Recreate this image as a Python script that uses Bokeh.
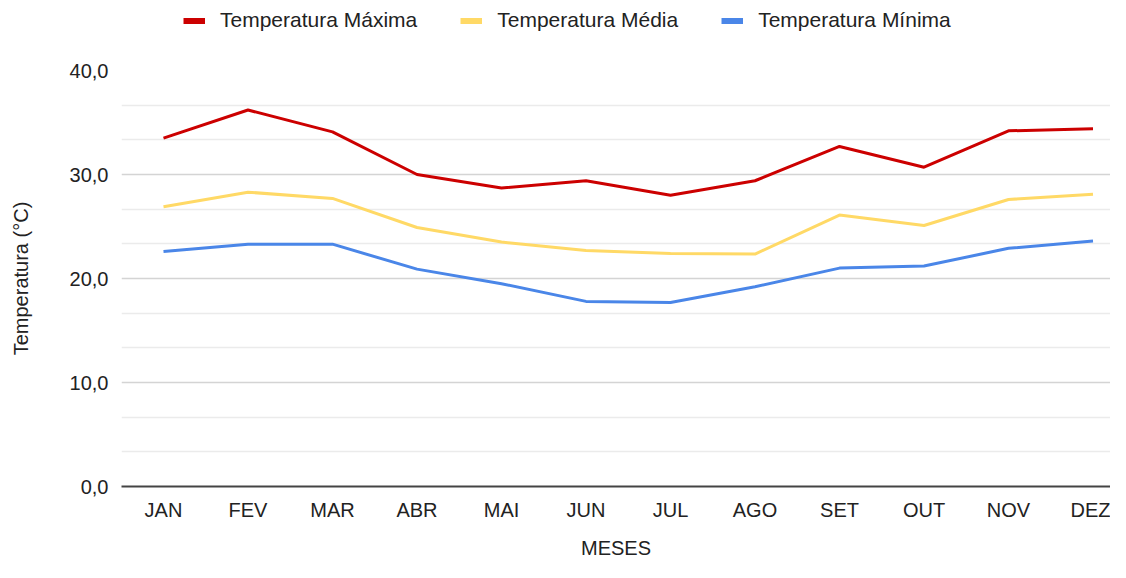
from bokeh.plotting import figure
from bokeh.layouts import column
from bokeh.models import FixedTicker, Range1d, Legend, LegendItem
from bokeh.embed import file_html
from bokeh.resources import INLINE

months = ["JAN", "FEV", "MAR", "ABR", "MAI", "JUN", "JUL", "AGO", "SET", "OUT", "NOV", "DEZ"]
t_max = [33.5, 36.2, 34.1, 30.0, 28.7, 29.4, 28.0, 29.4, 32.7, 30.7, 34.2, 34.4]
t_med = [26.9, 28.3, 27.7, 24.9, 23.5, 22.7, 22.4, 22.35, 26.1, 25.1, 27.6, 28.1]
t_min = [22.6, 23.3, 23.3, 20.9, 19.5, 17.8, 17.7, 19.2, 21.0, 21.2, 22.9, 23.6]
y_ticks = [0, 10, 20, 30, 40]
y_tick_labels = ["0,0", "10,0", "20,0", "30,0", "40,0"]
series_names = ["Temperatura Máxima", "Temperatura Média", "Temperatura Mínima"]
colors = ["#cc0000", "#ffd966", "#4a86e8"]
x_title = "MESES"
y_title = "Temperatura (°C)"

FONT = "Liberation Sans"
xs = list(range(len(months)))

# ---- legend strip (top) ----
leg = figure(width=1110, height=40, output_backend="svg", toolbar_location=None,
             x_range=Range1d(0, 1), y_range=Range1d(0, 1),
             x_axis_type=None, y_axis_type=None,
             min_border_left=0, min_border_right=0, min_border_top=0, min_border_bottom=0)
leg.outline_line_color = None
leg.grid.visible = False
# swatch renderers kept outside the visible range; only their legend samples show
leg_renderers = [leg.line(x=[-2, -1], y=[-2, -1], line_color=c, line_width=6) for c in colors]
legend = Legend(items=[LegendItem(label=n, renderers=[r]) for n, r in zip(series_names, leg_renderers)],
                orientation="horizontal", location=(62, 8), padding=0, margin=0,
                spacing=43, glyph_width=22, glyph_height=21, label_height=21,
                label_standoff=15, border_line_color=None, background_fill_alpha=0,
                label_text_font=FONT, label_text_font_size="21px", label_text_color="#222222")
leg.add_layout(legend, "center")

# ---- main chart ----
p = figure(width=1110, height=522, output_backend="svg", toolbar_location=None,
           x_range=Range1d(-0.497, 11.207), y_range=Range1d(0, 40),
           min_border_left=121, min_border_right=0, min_border_top=30, min_border_bottom=76)
p.outline_line_color = None
p.background_fill_color = "white"
p.border_fill_color = "white"

for ys, c in zip([t_max, t_med, t_min], colors):
    p.line(xs, ys, line_color=c, line_width=3)

# x axis
p.xaxis.ticker = FixedTicker(ticks=xs)
p.xaxis.major_label_overrides = {i: m for i, m in enumerate(months)}
p.xaxis.axis_label = x_title
p.xaxis.axis_line_color = "#444444"
p.xaxis.axis_line_width = 2
p.xaxis.major_tick_line_color = None
p.xaxis.minor_tick_line_color = None
p.xaxis.major_label_standoff = 6
p.xaxis.axis_label_standoff = 13
p.xaxis.major_label_text_font = FONT
p.xaxis.major_label_text_font_size = "20px"
p.xaxis.major_label_text_color = "#222222"
p.xaxis.axis_label_text_font = FONT
p.xaxis.axis_label_text_font_size = "20px"
p.xaxis.axis_label_text_font_style = "normal"
p.xaxis.axis_label_text_color = "#222222"

# y axis
minor = [v * 10 / 3 for v in range(1, 12) if v % 3 != 0]
yt = FixedTicker(ticks=y_ticks, minor_ticks=minor)
p.yaxis.ticker = yt
p.yaxis.major_label_overrides = {t: l for t, l in zip(y_ticks, y_tick_labels)}
p.yaxis.axis_label = y_title
p.yaxis.axis_line_color = None
p.yaxis.major_tick_line_color = None
p.yaxis.minor_tick_line_color = None
p.yaxis.major_label_standoff = 7
p.yaxis.axis_label_standoff = 35
p.yaxis.major_label_text_font = FONT
p.yaxis.major_label_text_font_size = "20px"
p.yaxis.major_label_text_color = "#222222"
p.yaxis.axis_label_text_font = FONT
p.yaxis.axis_label_text_font_size = "20px"
p.yaxis.axis_label_text_font_style = "normal"
p.yaxis.axis_label_text_color = "#222222"

p.xgrid.grid_line_color = None
p.ygrid.ticker = yt
p.ygrid.grid_line_color = "#d4d4d4"
p.ygrid.grid_line_width = 1.5
p.ygrid.minor_grid_line_color = "#ebebeb"
p.ygrid.minor_grid_line_width = 1.5

layout = column(leg, p, spacing=0)
open("out.html", "w").write(file_html(layout, INLINE))
